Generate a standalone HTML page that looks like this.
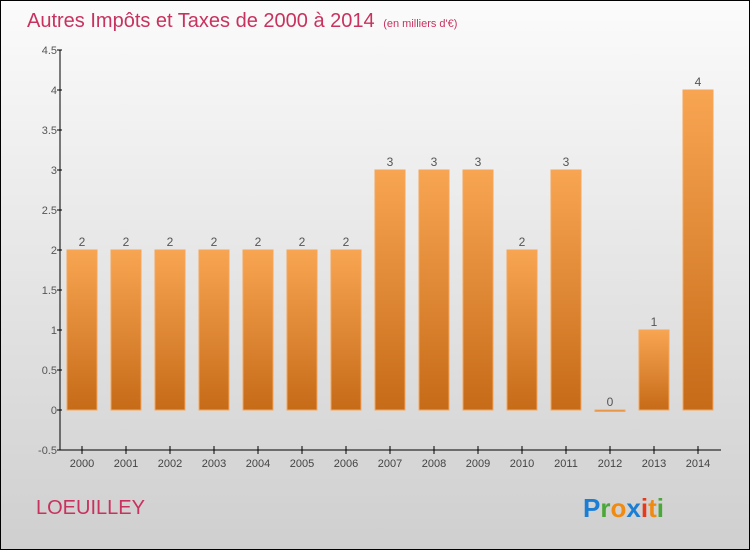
<!DOCTYPE html>
<html><head><meta charset="utf-8"><style>
body{margin:0}
#c{width:750px;height:550px;position:relative;overflow:hidden}
svg text{font-family:"Liberation Sans",sans-serif}
</style></head><body>
<div id="c">
<svg id="s" width="750" height="550" xmlns="http://www.w3.org/2000/svg">
<defs>
<linearGradient id="bg" x1="0" y1="0" x2="0" y2="1"><stop offset="0" stop-color="#fbfbfb"/><stop offset="1" stop-color="#cfcfcf"/></linearGradient>
<linearGradient id="bar" x1="0" y1="0" x2="0" y2="1"><stop offset="0" stop-color="#f8a552"/><stop offset="1" stop-color="#c66b18"/></linearGradient>
</defs>
<rect x="0.5" y="0.5" width="749" height="549" fill="url(#bg)" stroke="#000"/>
<text x="27" y="27" font-size="20" fill="#c8325e">Autres Impôts et Taxes de 2000 à 2014 <tspan font-size="11" dx="3">(en milliers d'€)</tspan></text>
<g id="bars"></g>
<g id="axes"></g>
<text x="36" y="514" font-size="20" fill="#c8325e">LOEUILLEY</text>
<text x="583" y="517" font-size="26" font-weight="bold"><tspan fill="#1a7fd4">P</tspan><tspan fill="#4aa83a">r</tspan><tspan fill="#f08a10">o</tspan><tspan fill="#1a7fd4">x</tspan><tspan fill="#e83a1a">i</tspan><tspan fill="#f08a10">t</tspan><tspan fill="#4aa83a">i</tspan></text>
</svg></div>
<script>
const years=["2000","2001","2002","2003","2004","2005","2006","2007","2008","2009","2010","2011","2012","2013","2014"];
const values=[2,2,2,2,2,2,2,3,3,3,2,3,0,1,4];
const yTicks=[-0.5,0,0.5,1,1.5,2,2.5,3,3.5,4,4.5];
const ns="http://www.w3.org/2000/svg";
const x0=60,band=44,bw=30;
const y=v=>410-v*80;
const xc=i=>x0+band/2+band*i;
function mk(t,a,p){const e=document.createElementNS(ns,t);for(const k in a)e.setAttribute(k,a[k]);p.appendChild(e);return e;}
const bars=document.getElementById('bars'),axes=document.getElementById('axes');
values.forEach((v,i)=>{
 const top=y(v);
 const r=mk('rect',{x:xc(i)-bw/2,y:Math.min(top,y(0)),width:bw,height:Math.max(Math.abs(y(0)-top),1.5),fill:'url(#bar)',stroke:'#f5a55a','stroke-width':1},bars);
 
 
 const t=mk('text',{x:xc(i),y:top-4,'font-size':12,fill:'#555','text-anchor':'middle'},bars);
 t.textContent=v;
 
 
 const tk=mk('line',{x1:xc(i),x2:xc(i),y1:446,y2:454,stroke:'#000'},axes);
 
 
 const l=mk('text',{x:xc(i),y:467,'font-size':11,fill:'#444','text-anchor':'middle'},axes);
 l.textContent=years[i];
 
 
});
const ya=mk('line',{x1:60,x2:60,y1:50,y2:450,stroke:'#000'},axes);


const xa=mk('line',{x1:60,x2:721,y1:450,y2:450,stroke:'#000'},axes);


yTicks.forEach(v=>{
 const tk=mk('line',{x1:57,x2:62,y1:y(v),y2:y(v),stroke:'#000'},axes);
 
 
 const l=mk('text',{x:57,y:y(v)+4,'font-size':11,fill:'#555','text-anchor':'end'},axes);
 l.textContent=v;
 
 
});
</script>
</body></html>
